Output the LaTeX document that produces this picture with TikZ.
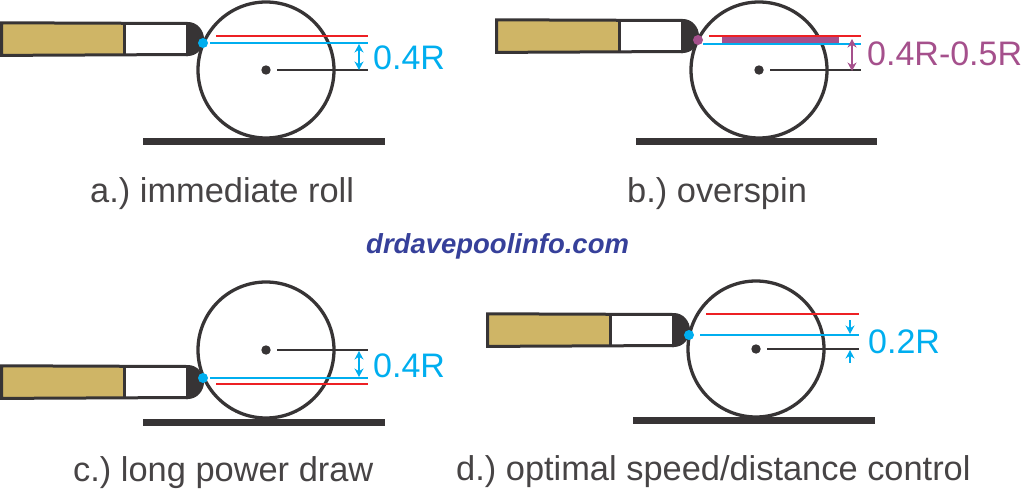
\documentclass[tikz,border=0pt]{standalone}
\usepackage{fontspec}
\setmainfont{Liberation Sans}
\usetikzlibrary{arrows.meta}
\definecolor{ink}{HTML}{373435}
\definecolor{cyanline}{HTML}{00AEEF}
\definecolor{redline}{HTML}{ED2024}
\definecolor{plum}{HTML}{A5508C}
\definecolor{tan}{HTML}{CFB566}
\definecolor{site}{HTML}{36409A}
\tikzset{
  ball/.style={draw=ink,line width=3.3pt,fill=white},
  ground/.style={fill=ink},
  refline/.style={line width=1.9pt},
  dim/.style={line width=1.8pt,{Stealth[length=8.5pt,width=9pt]}-{Stealth[length=8.5pt,width=9pt]}},
  dimone/.style={line width=1.8pt,-{Stealth[length=8.5pt,width=9pt]}},
  caption/.style={inner sep=0pt,anchor=base west,font=\fontsize{34.4}{34.4}\selectfont,text=ink!92!white},
  measure/.style={inner sep=0pt,anchor=base west,font=\fontsize{34}{34}\selectfont},
  cueline/.style={draw=ink,line width=3pt,line join=miter},
}
% \cuestick{x}{y}: outer left, outer top of the stick
\newcommand{\cuestick}[2]{%
  \begin{scope}[shift={(#1,#2)}]
    \fill[tan] (1.5,1.5) rectangle (124.5,32.5);
    \fill[white] (124.5,1.5) rectangle (187,32.5);
    \fill[ink] (186,0) -- (188,0) .. controls (197,0) and (204,8) .. (204,17) .. controls (204,26) and (197,34) .. (188,34) -- (186,34) -- cycle;
    \draw[cueline] (188,1.5) -- (1.5,0.8) -- (1.5,33.4) -- (188,32.5);
    \draw[ink,line width=3pt] (124.5,1.5) -- (124.5,32.5);
  \end{scope}}
% \pool{cx}{cy}{ground left}{ground right}{ground top}{line end}
\newcommand{\pool}[6]{%
  \draw[ball] (#1,#2) circle (68);
  \fill[ink] (#1,#2) circle (4.7);
  \fill[ground] (#3,#5) rectangle (#4,#5+7);
  \draw[ink,refline] (#1+11,#2) -- (#6,#2);}
\begin{document}
\frenchspacing
\begin{tikzpicture}[x=1pt,y=-1pt]
\useasboundingbox (0,0) rectangle (1024,490);
% a
\pool{266}{70}{143}{385}{138}{368}
\cuestick{0}{22}
\draw[redline,refline] (216,36) -- (368,36);
\draw[cyanline,refline] (210,43) -- (368,43);
\fill[cyanline] (203,43) circle (5);
\draw[cyanline,dim] (359,44) -- (359,70);
\node[measure,text=cyanline] (la) at (373,69) {0.4R};
\node[caption] (ca) at (90,202) {a.) immediate roll};
% b
\pool{759}{70}{636}{877}{138}{861}
\cuestick{495}{19}
\draw[redline,refline] (709,36) -- (861,36);
\draw[cyanline,refline] (703,44) -- (861,44);
\fill[plum] (722,37) rectangle (839,43);
\fill[plum] (698,40) circle (5);
\draw[plum,dim] (852,39) -- (852,71);
\node[measure,text=plum] (lb) at (867,65) {0.4R-0.5R};
\node[caption] (cb) at (627,202) {b.) overspin};
% site
\node[inner sep=0pt,anchor=base west,font=\fontsize{27.5}{27.5}\selectfont\bfseries\itshape,text=site] (site) at (366,253) {drdavepoolinfo.com};
% c
\pool{266}{350}{143}{385}{419}{368}
\cuestick{0}{365}
\draw[redline,refline] (216,384) -- (368,384);
\draw[cyanline,refline] (210,378) -- (368,378);
\fill[cyanline] (203,378) circle (5);
\draw[cyanline,dim] (359,351) -- (359,377);
\node[measure,text=cyanline] (lc) at (373,377) {0.4R};
\node[caption] (cc) at (73,481) {c.) long power draw};
% d
\pool{756}{349}{633}{875}{417}{859}
\cuestick{486}{313}
\draw[redline,refline] (706,314) -- (859,314);
\draw[cyanline,refline] (700,335) -- (859,335);
\fill[cyanline] (689,335) circle (5);
\draw[cyanline,dimone] (850,320) -- (850,334);
\draw[cyanline,dimone] (850,363) -- (850,350);
\node[measure,text=cyanline] (ld) at (868,353) {0.2R};
\node[caption] (cd) at (456,480) {d.) optimal speed/distance control};
\end{tikzpicture}
\end{document}
